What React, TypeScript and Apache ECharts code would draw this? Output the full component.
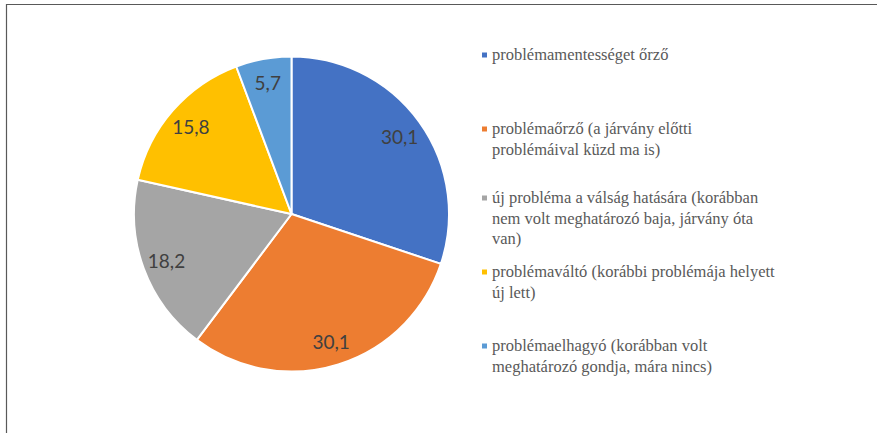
import React, { useEffect, useRef } from "react";
import * as echarts from "echarts";

const categories = [
  "problémamentességet őrző",
  "problémaőrző (a járvány előtti problémáival küzd ma is)",
  "új probléma a válság hatására (korábban nem volt meghatározó baja, járvány óta van)",
  "problémaváltó (korábbi problémája helyett új lett)",
  "problémaelhagyó (korábban volt meghatározó gondja, mára nincs)",
];
const values = [30.1, 30.1, 18.2, 15.8, 5.7];
const colors = ["#4472C4", "#ED7D31", "#A5A5A5", "#FFC000", "#5B9BD5"];
const legendLines = [
  ["problémamentességet őrző"],
  ["problémaőrző (a járvány előtti", "problémáival küzd ma is)"],
  ["új probléma a válság hatására (korábban", "nem volt meghatározó baja, járvány óta", "van)"],
  ["problémaváltó (korábbi problémája helyett", "új lett)"],
  ["problémaelhagyó (korábban volt", "meghatározó gondja, mára nincs)"],
];
const legendMarkerY = [55, 129, 198, 272, 346];

const SERIF = "Times New Roman";

export default function App() {
  const ref = useRef<HTMLDivElement>(null);
  useEffect(() => {
    if (!ref.current) return;
    const chart = echarts.init(ref.current, undefined, { renderer: "svg" });
    const lh = 20.5;
    const center = [291.5, 214];
    const R = 157.5;
    const legendX = 482;
    const legends = categories.map((name, i) => ({
      orient: "vertical" as const,
      left: legendX,
      top: legendMarkerY[i] - 2.5,
      padding: 0,
      icon: "rect",
      itemWidth: 5,
      itemHeight: 5,
      selectedMode: false,
      itemStyle: { borderWidth: 0 },
      data: [name],
      formatter: () => "",
      textStyle: { fontSize: 1 },
    }));
    const legendTexts: any[] = [];
    legendLines.forEach((lines, i) => {
      lines.forEach((line, j) => {
        legendTexts.push({
          type: "text",
          left: legendX + 10,
          top: legendMarkerY[i] + j * lh - 9,
          silent: true,
          style: {
            text: line,
            fontFamily: SERIF,
            fontSize: 16.5,
            fill: "#595959",
          },
        });
      });
    });
    chart.setOption({
      animation: false,
      color: colors,
      legend: legends,
      graphic: [
        {
          type: "rect",
          shape: { x: 6.5, y: 4.5, width: 1000, height: 1000 },
          style: { fill: "none", stroke: "#595959", lineWidth: 1.2 },
          silent: true,
        },
        ...legendTexts,
      ],
      series: [
        {
          type: "pie",
          center,
          radius: [0, R],
          startAngle: 90,
          clockwise: true,
          silent: true,
          itemStyle: { borderColor: "#ffffff", borderWidth: 2 },
          label: { show: false },
          labelLine: { show: false },
          data: categories.map((name, i) => ({
            name,
            value: values[i],
            itemStyle: { color: colors[i] },
          })),
        },
        {
          type: "pie",
          center,
          radius: [103, R],
          startAngle: 90,
          clockwise: true,
          silent: true,
          itemStyle: { color: "rgba(0,0,0,0)", borderWidth: 0 },
          label: {
            show: true,
            position: "inside",
            fontFamily: "Lato",
            fontSize: 19,
            color: "#404040",
            formatter: (p: any) => String(p.value).replace(".", ","),
          },
          labelLine: { show: false },
          data: categories.map((name, i) => ({ name, value: values[i] })),
        },
      ],
    });
    return () => chart.dispose();
  }, []);
  return (
    <div
      ref={ref}
      style={{ position: "absolute", left: 0, top: 0, width: 877, height: 433, background: "#fff" }}
    />
  );
}
